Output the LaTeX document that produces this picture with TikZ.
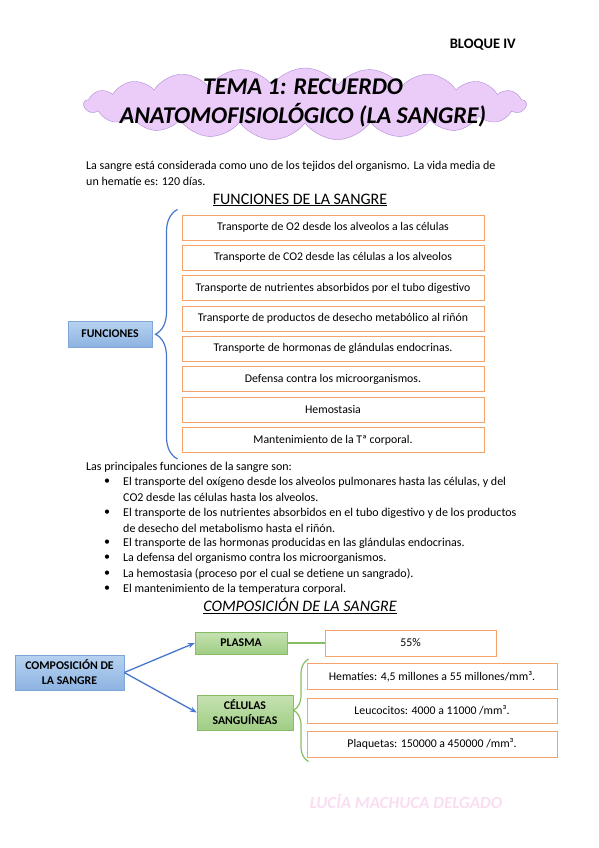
\documentclass[tikz,border=0pt]{standalone}
\usepackage{fontspec}
\setmainfont{Carlito}
\usetikzlibrary{arrows.meta,shapes.symbols,decorations.pathreplacing}

\definecolor{naranja}{HTML}{F5A36B}
\definecolor{azulbd}{HTML}{7EA6D8}
\definecolor{azul1}{HTML}{B7D2F0}
\definecolor{azul2}{HTML}{8DB3E2}
\definecolor{verdebd}{HTML}{86BD63}
\definecolor{verde1}{HTML}{C5E2B2}
\definecolor{verde2}{HTML}{A0CD84}
\definecolor{flecha}{HTML}{4677CC}
\definecolor{lila}{HTML}{EBCBF8}
\definecolor{lilabd}{HTML}{B08BD8}
\definecolor{rosa}{HTML}{FBDDF2}

\begin{document}
\begin{tikzpicture}[x=1pt, y=-1pt,
  txt/.style={inner sep=0pt, font=\fontsize{12}{16}\selectfont},
  caja/.style={draw=naranja, line width=1pt, inner sep=0pt,
    font=\fontsize{11.8}{13}\selectfont},
  azul/.style={draw=azulbd, top color=azul1, bottom color=azul2, inner sep=0pt,
    align=center, font=\bfseries\fontsize{11.8}{15}\selectfont},
  verde/.style={draw=verdebd, top color=verde1, bottom color=verde2, inner sep=0pt,
    align=center, font=\bfseries\fontsize{11.8}{15}\selectfont},
  llave/.style={decorate, decoration={brace, amplitude=#1}, line width=1.2pt}]
  \useasboundingbox[fill=white] (0,0) rectangle (599,848);

  % cabecera
  \node[txt, font=\bfseries\fontsize{14.5}{16}\selectfont, anchor=east] (bloque) at (516,45) {BLOQUE IV};
  \node[cloud, cloud puffs=21, cloud puff arc=110, aspect=6.4, draw=lilabd, fill=lila,
    minimum width=442pt, minimum height=72pt, inner sep=0pt] (nube) at (305,104) {};
  \node[align=center, font=\bfseries\itshape\fontsize{24}{29}\selectfont] (tema) at (303,103)
    {TEMA 1: RECUERDO\\ANATOMOFISIOLÓGICO (LA SANGRE)};

  \node[txt, anchor=north west, align=left] (intro) at (86,161)
    {La sangre está considerada como uno de los tejidos del organismo. La vida media de\\
     un hematíe es: 120 días.};

  % funciones
  \node[txt, font=\fontsize{16}{18}\selectfont] (titfun) at (300,200) {\underline{FUNCIONES DE LA SANGRE}};
  \foreach \t [count=\i] in {Transporte de O2 desde los alveolos a las células,
      Transporte de CO2 desde las células a los alveolos,
      Transporte de nutrientes absorbidos por el tubo digestivo,
      Transporte de productos de desecho metabólico al riñón,
      Transporte de hormonas de glándulas endocrinas.,
      Defensa contra los microorganismos.,
      Hemostasia,
      Mantenimiento de la Tª corporal.}
    \node[caja, minimum width=302pt, minimum height=25pt] (f\i) at (333,{227.5+30.35*(\i-1)}) {\t};
  \node[azul, minimum width=84pt, minimum height=26pt] (fun) at (110,334) {FUNCIONES};
  \draw[llave=22, draw=flecha] ([xshift=-4pt,yshift=-6pt]f8.south west) -- ([xshift=-4pt,yshift=5pt]f1.north west);

  % lista
  \node[txt, anchor=west] (princ) at (86,467) {Las principales funciones de la sangre son:};
  \foreach \y/\t in {482/{El transporte del oxígeno desde los alveolos pulmonares hasta las células, y del},
      497/{CO2 desde las células hasta los alveolos.},
      513/{El transporte de los nutrientes absorbidos en el tubo digestivo y de los productos},
      528/{de desecho del metabolismo hasta el riñón.},
      543/{El transporte de las hormonas producidas en las glándulas endocrinas.},
      558/{La defensa del organismo contra los microorganismos.},
      574/{La hemostasia (proceso por el cual se detiene un sangrado).},
      589/{El mantenimiento de la temperatura corporal.}}
    \node[txt, anchor=west] (l\y) at (123,\y) {\t};
  \foreach \y in {482,513,543,558,574,589}
    \node[txt] (b\y) at (107,\y) {\textbullet};

  % composicion
  \node[txt, font=\itshape\fontsize{16}{18}\selectfont] (titcom) at (300,606) {\underline{COMPOSICIÓN DE LA SANGRE}};
  \node[azul, minimum width=109pt, minimum height=35pt] (comp) at (69.5,672.5) {COMPOSICIÓN DE\\LA SANGRE};
  \node[verde, minimum width=92pt, minimum height=22pt] (plasma) at (241,643) {PLASMA};
  \node[verde, minimum width=96pt, minimum height=35pt] (cel) at (245,712.5) {CÉLULAS\\SANGUÍNEAS};
  \node[caja, minimum width=171pt, minimum height=26pt] (pct) at (410.5,643) {55\%};
  \node[caja, minimum width=250pt, minimum height=26pt] (c1) at (432,676.5) {Hematíes: 4,5 millones a 55 millones/mm³.};
  \node[caja, minimum width=250pt, minimum height=25pt] (c2) at (432,710.5) {Leucocitos: 4000 a 11000 /mm³.};
  \node[caja, minimum width=250pt, minimum height=26pt] (c3) at (432,744) {Plaquetas: 150000 a 450000 /mm³.};

  \draw[flecha, line width=1.3pt, -{Stealth[length=2.4mm]}] (comp.east) -- (plasma.west);
  \draw[flecha, line width=1.3pt, -{Stealth[length=2.4mm]}] (comp.east) -- (cel.west);
  \draw[verdebd, line width=1.3pt] (plasma.east) -- (pct.west);
  \draw[llave=15, draw=verdebd] ([xshift=2pt,yshift=-4pt]c3.south west) -- ([xshift=2pt,yshift=4pt]c1.north west);

  % firma
  \node[font=\bfseries\itshape\fontsize{17}{19}\selectfont, text=rosa] (firma) at (406,801) {LUCÍA MACHUCA DELGADO};
\end{tikzpicture}
\end{document}
